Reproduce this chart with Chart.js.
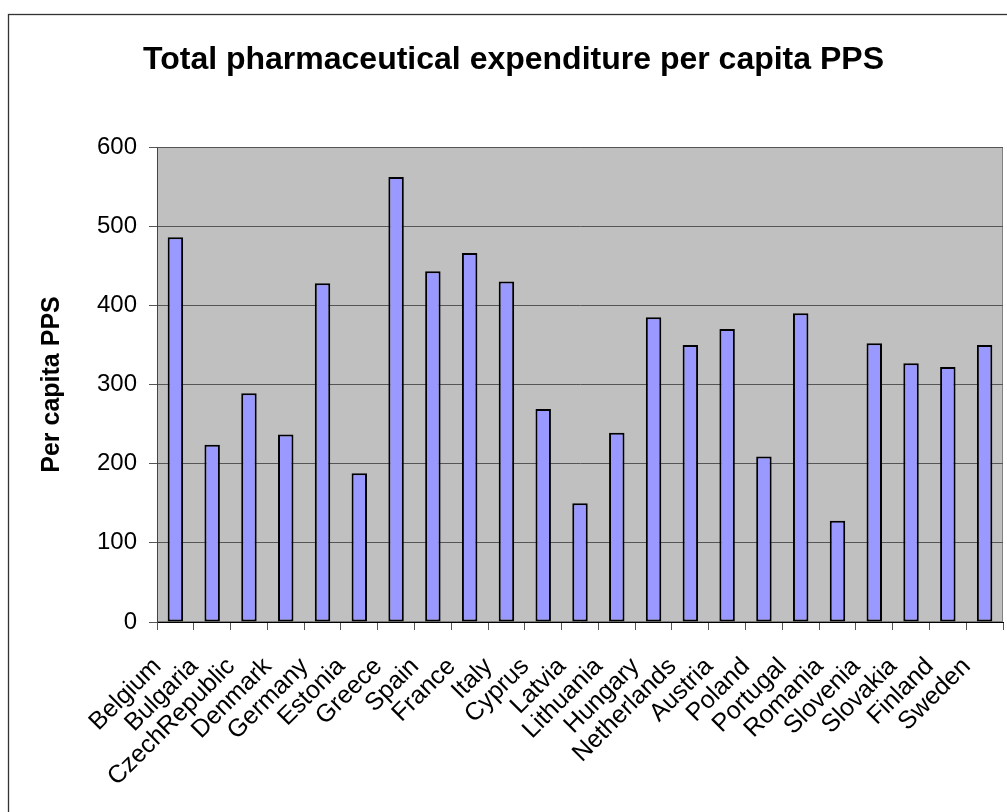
<!DOCTYPE html>
<html>
<head>
<meta charset="utf-8">
<script src="https://cdn.jsdelivr.net/npm/chart.js@4"></script>
<style>
  html, body { margin: 0; padding: 0; background: #fff; }
  canvas { display: block; }
</style>
</head>
<body>
<canvas id="chart" width="1007" height="812"></canvas>
<script>
// Data
const countries = [
    'Belgium', 'Bulgaria', 'CzechRepublic', 'Denmark', 'Germany', 'Estonia',
    'Greece', 'Spain', 'France', 'Italy', 'Cyprus', 'Latvia', 'Lithuania',
    'Hungary', 'Netherlands', 'Austria', 'Poland', 'Portugal', 'Romania',
    'Slovenia', 'Slovakia', 'Finland', 'Sweden'
];
const perCapitaPPS = [
    486, 224, 289, 237, 428, 188, 562, 443, 466, 430, 269, 150, 239,
    385, 350, 370, 209, 390, 128, 352, 327, 322, 350
];
const yTicks = [0, 100, 200, 300, 400, 500, 600];

const FONT = '"Liberation Sans", Arial, sans-serif';

// white page, outer frame and grey plot area
const backdrop = {
    id: 'backdrop',
    beforeDraw(chart) {
        const { ctx, chartArea: a } = chart;
        ctx.save();
        ctx.fillStyle = '#ffffff';
        ctx.fillRect(0, 0, chart.width, chart.height);
        ctx.strokeStyle = '#333333';
        ctx.lineWidth = 1.3;
        ctx.strokeRect(8.5, 14.5, 1100, 900);
        ctx.fillStyle = '#c0c0c0';
        ctx.fillRect(a.left, a.top, a.right - a.left, a.bottom - a.top);
        ctx.strokeStyle = '#808080';
        ctx.lineWidth = 1;
        ctx.strokeRect(a.left + 0.5, a.top + 0.5, a.right - a.left - 1, a.bottom - a.top - 1);
        ctx.restore();
    }
};

new Chart(document.getElementById('chart').getContext('2d'), {
    type: 'bar',
    data: {
        labels: countries,
        datasets: [{
            data: perCapitaPPS,
            backgroundColor: '#9999ff',
            borderColor: '#000000',
            borderWidth: 2,
            borderSkipped: false,
            barPercentage: 0.42,
            categoryPercentage: 1.0
        }]
    },
    options: {
        responsive: false,
        animation: false,
        devicePixelRatio: 1,
        // left padding pushes the title centre to the middle of the outer frame
        layout: { padding: { left: 24, right: 4, top: 0, bottom: 0 } },
        plugins: {
            legend: { display: false },
            tooltip: { enabled: false },
            title: {
                display: true,
                text: 'Total pharmaceutical expenditure per capita PPS',
                color: '#000',
                font: { family: FONT, size: 32, weight: 'bold', lineHeight: 1.2 },
                padding: { top: 41, bottom: 67.6 }
            }
        },
        scales: {
            x: {
                afterFit(scale) {
                    scale.height = 190;
                    // labels sit inside the frame anyway, don't let them squeeze the plot
                    scale.paddingLeft = 0;
                    scale.paddingRight = 0;
                },
                grid: {
                    offset: true,
                    drawOnChartArea: false,
                    drawTicks: true,
                    tickLength: 8,
                    color: '#555555'
                },
                border: { color: '#000000', width: 1 },
                ticks: {
                    autoSkip: false,
                    minRotation: 45,
                    maxRotation: 45,
                    padding: 22,
                    labelOffset: -18,
                    color: '#000',
                    font: { family: FONT, size: 25 }
                }
            },
            y: {
                min: 0,
                max: 600,
                afterFit(scale) { scale.width = 133; },
                afterBuildTicks(scale) { scale.ticks = yTicks.map(v => ({ value: v })); },
                grid: {
                    color: '#555555',
                    tickLength: 8
                },
                border: { color: '#444444', width: 1 },
                ticks: {
                    padding: 12,
                    color: '#000',
                    font: { family: FONT, size: 24 }
                },
                title: {
                    display: true,
                    text: 'Per capita PPS',
                    color: '#000',
                    font: { family: FONT, size: 25, weight: 'bold', lineHeight: 1.2 },
                    padding: { top: 13, bottom: 0 }
                }
            }
        }
    },
    plugins: [backdrop]
});
</script>
</body>
</html>
